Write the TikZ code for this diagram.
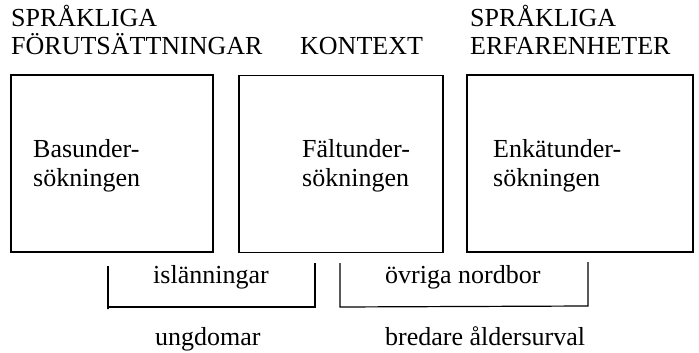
\documentclass[tikz,border=0pt]{standalone}
\usepackage{fontspec}
\setmainfont{Liberation Serif}
\begin{document}
\begin{tikzpicture}[x=1pt,y=-1pt,
  box/.style={draw,line width=1.2pt,inner sep=0pt,minimum height=177pt},
  lbl/.style={anchor=base west,inner sep=0pt,font=\fontsize{26}{30}\selectfont},
  brk/.style={draw,line width=1.2pt}]
\useasboundingbox (0,0) rectangle (699,353);
% headers
\node[lbl] (h1a) at (11,27) {SPRÅKLIGA};
\node[lbl] (h1b) at (11,55) {FÖRUTSÄTTNINGAR};
\node[lbl] (h2) at (300,55) {KONTEXT};
\node[lbl] (h3a) at (470,27) {SPRÅKLIGA};
\node[lbl] (h3b) at (470,55) {ERFARENHETER};
% boxes
\node[box,minimum width=202pt] (b1) at (112,163.5) {};
\node[box,minimum width=204pt] (b2) at (341,164) {};
\node[box,minimum width=226pt] (b3) at (580,163.5) {};
% box texts
\node[lbl] (t1a) at (33,157) {Basunder-};
\node[lbl] (t1b) at (33,186) {sökningen};
\node[lbl] (t2a) at (302,157) {Fältunder-};
\node[lbl] (t2b) at (302,186) {sökningen};
\node[lbl] (t3a) at (493,157) {Enkätunder-};
\node[lbl] (t3b) at (493,186) {sökningen};
% brackets
\coordinate (a1) at (108,266);
\coordinate (a2) at (108,309);
\coordinate (a3) at (315,307);
\coordinate (a4) at (315,263);
\draw[brk] (a1) -- (a2) -- (108,307) -- (a3) -- (a4);
\coordinate (c1) at (340,263);
\coordinate (c2) at (340,307);
\coordinate (c3) at (588,306);
\coordinate (c4) at (588,262);
\draw[brk] (c1) -- (c2) -- (c3) -- (c4);
\node[lbl] (g1) at (153,283) {islänningar};
\node[lbl] (g2) at (385,283) {övriga nordbor};
\node[lbl] (u1) at (155,345) {ungdomar};
\node[lbl] (u2) at (385,345) {bredare åldersurval};
\end{tikzpicture}
\end{document}
